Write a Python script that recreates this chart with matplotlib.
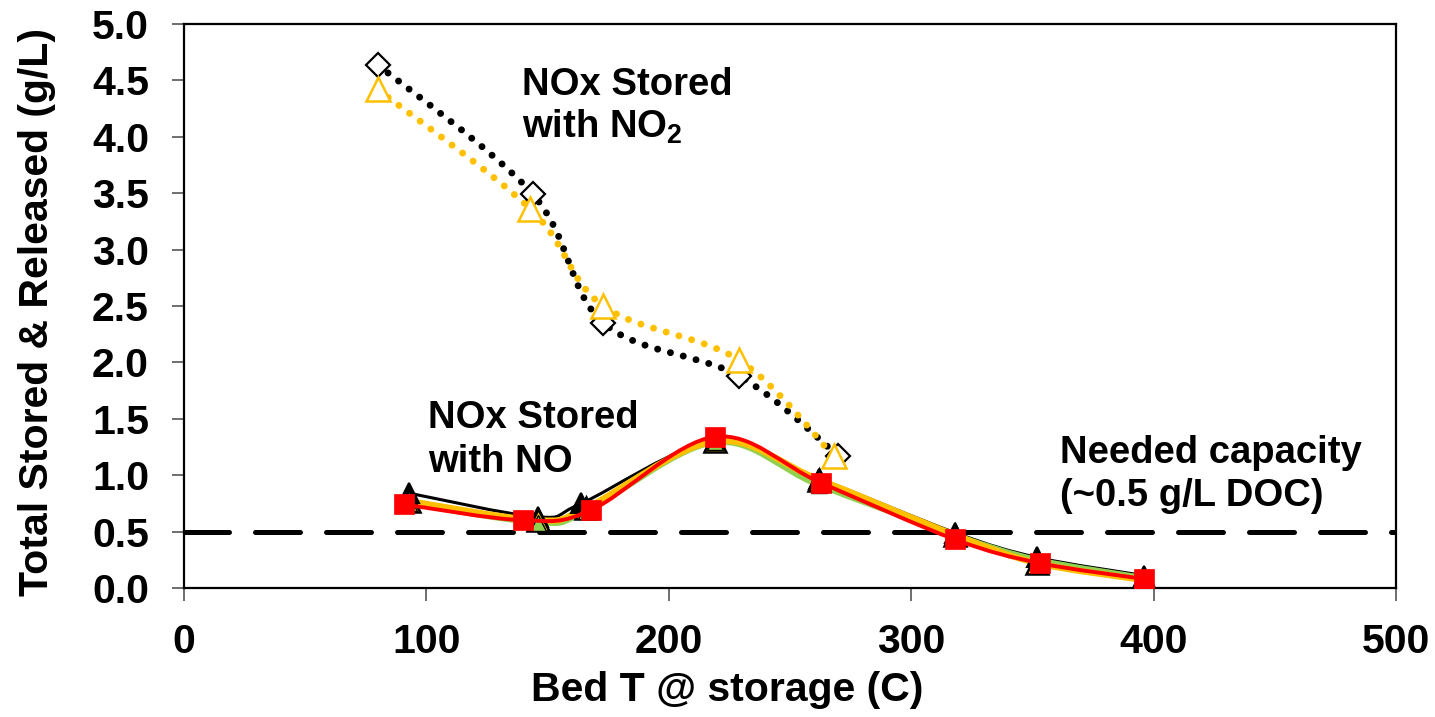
import matplotlib
matplotlib.use("Agg")
import matplotlib.pyplot as plt
from matplotlib.path import Path
from matplotlib.patches import PathPatch

plt.rcParams["font.family"] = ["Liberation Sans", "DejaVu Sans"]
plt.rcParams["font.weight"] = "bold"
plt.rcParams["mathtext.fontset"] = "custom"
plt.rcParams["mathtext.rm"] = "Liberation Sans:bold"
plt.rcParams["mathtext.bf"] = "Liberation Sans:bold"

# NOx stored with NO2 feed
no2_t_black = [80, 144, 173, 229, 270]
no2_black = [4.64, 3.49, 2.35, 1.88, 1.17]
no2_t_gold = [80, 143, 173, 229, 268]
no2_gold = [4.42, 3.36, 2.50, 2.02, 1.17]

# NOx stored with NO feed
no_t_black = [93, 146, 164, 219, 262, 318, 352, 396]
no_black = [0.84, 0.63, 0.75, 1.30, 0.97, 0.49, 0.27, 0.11]
no_t_gold = [93, 146, 166, 219, 262, 318, 352, 396]
no_gold = [0.77, 0.60, 0.71, 1.30, 0.96, 0.47, 0.22, 0.07]
no_t_green = [93, 146, 166, 219, 262, 318, 352, 396]
no_green = [0.75, 0.58, 0.68, 1.29, 0.91, 0.47, 0.25, 0.09]
no_t_red = [91, 140, 168, 219, 263, 318, 353, 396]
no_red = [0.74, 0.60, 0.69, 1.34, 0.93, 0.43, 0.22, 0.08]

needed_capacity = 0.5

x_ticks = [0, 100, 200, 300, 400, 500]
y_ticks = [0.0, 0.5, 1.0, 1.5, 2.0, 2.5, 3.0, 3.5, 4.0, 4.5, 5.0]

GOLD = "#FFC000"
GREEN = "#92D050"
RED = "#FF0000"


def smooth_path(xs, ys):
    """Excel-style smoothed line: cubic Bezier through every point."""
    pts = list(zip(xs, ys))
    verts = [pts[0]]
    codes = [Path.MOVETO]
    n = len(pts)
    for i in range(n - 1):
        p0 = pts[i - 1] if i > 0 else pts[i]
        p1 = pts[i]
        p2 = pts[i + 1]
        p3 = pts[i + 2] if i + 2 < n else pts[i + 1]
        c1 = (p1[0] + (p2[0] - p0[0]) / 6, p1[1] + (p2[1] - p0[1]) / 6)
        c2 = (p2[0] - (p3[0] - p1[0]) / 6, p2[1] - (p3[1] - p1[1]) / 6)
        verts += [c1, c2, p2]
        codes += [Path.CURVE4] * 3
    return Path(verts, codes)


def add_curve(ax, xs, ys, color, lw, z, dotted=False):
    patch = PathPatch(smooth_path(xs, ys), fill=False, edgecolor=color,
                      linewidth=lw, zorder=z)
    if dotted:
        patch.set_linestyle((0, (0.01, 1.9)))
        patch.set_capstyle("round")
    else:
        patch.set_capstyle("butt")
        patch.set_joinstyle("round")
    ax.add_patch(patch)


fig = plt.figure(figsize=(14.35, 7.17), dpi=100)
ax = fig.add_axes([0.128, 0.180, 0.845, 0.7865])

# needed capacity line
ax.axhline(needed_capacity, color="black", lw=3.6, dashes=(9.0, 5.2),
           dash_capstyle="round", zorder=2)

# NO2 series: dotted smoothed lines with open markers
add_curve(ax, no2_t_black, no2_black, "black", 5, 3, dotted=True)
add_curve(ax, no2_t_gold, no2_gold, GOLD, 5, 3, dotted=True)
ax.plot(no2_t_black, no2_black, ls="none", marker="D", ms=12.5, mfc="white",
        mec="black", mew=1.6, zorder=5)
ax.plot(no2_t_gold, no2_gold, ls="none", marker="^", ms=17, mfc="white",
        mec=GOLD, mew=1.8, zorder=5)

# NO series: solid smoothed lines
add_curve(ax, no_t_black, no_black, "black", 2.2, 4)
add_curve(ax, no_t_green, no_green, GREEN, 4.0, 4)
add_curve(ax, no_t_gold, no_gold, GOLD, 4.5, 4)
add_curve(ax, no_t_red, no_red, RED, 2.8, 6)
ax.plot(no_t_black, no_black, ls="none", marker="^", ms=15, mfc="black",
        mec="black", mew=1.5, zorder=5)
ax.plot(no_t_gold, no_gold, ls="none", marker="^", ms=16, mfc=GOLD,
        mec="black", mew=1.8, zorder=5)
ax.plot(no_t_green, no_green, ls="none", marker="^", ms=12, mfc=GREEN,
        mec="black", mew=1.0, zorder=5)
ax.plot(no_t_red, no_red, ls="none", marker="s", ms=14, mfc=RED,
        mec=RED, mew=0.5, zorder=7)

ax.set_xlim(0, 500)
ax.set_ylim(0, 5.0)
ax.set_xticks(x_ticks)
ax.set_yticks(y_ticks)
ax.set_yticklabels([f"{v:.1f}" for v in y_ticks])
ax.tick_params(axis="both", direction="out", length=9, width=1.2,
               color="#555555", labelsize=29.5, pad=16)
for sp in ax.spines.values():
    sp.set_linewidth(1.6)
    sp.set_color("black")

ax.set_xlabel("Bed T @ storage (C)", fontsize=29.5, fontweight="bold")
ax.set_ylabel("Total Stored & Released (g/L)", fontsize=29.5,
              fontweight="bold")
ax.xaxis.set_label_coords(0.448, -0.148)
ax.yaxis.set_label_coords(-0.105, 0.489)

txt = dict(fontsize=27.5, fontweight="bold", va="baseline", ha="left")
ax.text(139.4, 4.37, "NOx Stored", **txt)
ax.text(139.4, 3.99, r"with NO$_{2}$", **txt)
ax.text(100.7, 1.417, "NOx Stored", **txt)
ax.text(100.7, 1.027, "with NO", **txt)
ax.text(361.4, 1.106, "Needed capacity", **txt)
ax.text(361.4, 0.725, "(~0.5 g/L DOC)", **txt)

fig.savefig("out.png", dpi=100)
